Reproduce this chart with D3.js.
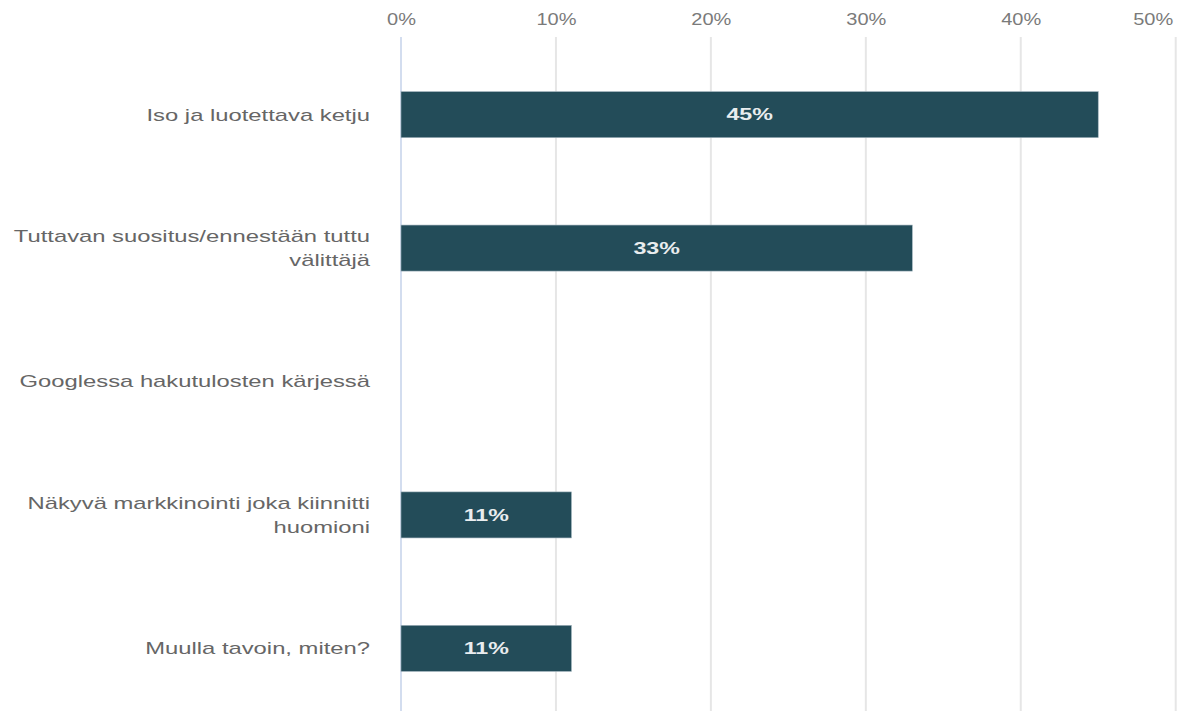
<!DOCTYPE html>
<html>
<head>
<meta charset="utf-8">
<script src="https://cdn.jsdelivr.net/npm/d3@7"></script>
<style>
  html, body { margin: 0; padding: 0; background: #fff; }
  svg { display: block; font-family: "Liberation Sans", Arial, sans-serif; }
</style>
</head>
<body>
<svg id="chart" width="1190" height="711"></svg>
<script>
// Survey answers: how the respondent found their agent
const categories = [
  "Iso ja luotettava ketju",
  "Tuttavan suositus/ennestään tuttu välittäjä",
  "Googlessa hakutulosten kärjessä",
  "Näkyvä markkinointi joka kiinnitti huomioni",
  "Muulla tavoin, miten?"
];
// Category labels broken onto lines as displayed
const labelLines = [
  ["Iso ja luotettava ketju"],
  ["Tuttavan suositus/ennestään tuttu", "välittäjä"],
  ["Googlessa hakutulosten kärjessä"],
  ["Näkyvä markkinointi joka kiinnitti", "huomioni"],
  ["Muulla tavoin, miten?"]
];
const values = [45, 33, 0, 11, 11];
const tickValues = [0, 10, 20, 30, 40, 50];

const svg = d3.select("#chart");
const W = 1190, H = 711;
const left = 401, right = 14, gridTop = 37;
const tickScale = 1.25;

const x = d3.scaleLinear().domain([0, 50]).range([left, W - right - 0.3]);
const y = d3.scaleBand().domain(categories).range([48, 715]).paddingInner(0.655).paddingOuter(0.327);

// Gridlines
svg.append("g").selectAll("line")
  .data(tickValues)
  .join("line")
  .attr("x1", d => x(d)).attr("x2", d => x(d))
  .attr("y1", gridTop).attr("y2", H)
  .attr("stroke", d => d === 0 ? "#d3ddef" : "#e6e6e6")
  .attr("stroke-width", 2);

// Top axis labels (wide lettering); the last one is kept inside the frame
const xAxis = d3.axisTop(x).tickValues(tickValues).tickFormat(d => d + "%").tickSize(0);
const ax = svg.append("g").attr("transform", "translate(0,25)").call(xAxis);
ax.select(".domain").remove();
const lastTick = tickValues[tickValues.length - 1];
ax.selectAll(".tick text")
  .attr("fill", "#7a7a7a")
  .style("font-size", "16px")
  .attr("y", 0)
  .attr("dy", 0)
  .attr("transform", `scale(${tickScale},1)`)
  .attr("text-anchor", d => d === lastTick ? "end" : "middle")
  .attr("x", d => d === lastTick ? -3 / tickScale : 0);

// Bars
svg.append("g").selectAll("rect")
  .data(values)
  .join("rect")
  .attr("x", x(0))
  .attr("y", (d, i) => y(categories[i]))
  .attr("width", d => x(d) - x(0))
  .attr("height", y.bandwidth())
  .attr("fill", "#234c59")
  .attr("stroke", d => d > 0 ? "#9fb2bb" : "none")
  .attr("stroke-width", 0.6);

// Value labels
svg.append("g").selectAll("text")
  .data(values.map((v, i) => ({ v, i })).filter(d => d.v > 0))
  .join("text")
  .attr("transform", d => `translate(${(x(0) + x(d.v)) / 2},${y(categories[d.i]) + y.bandwidth() / 2}) scale(1.45,1)`)
  .attr("dy", "0.36em")
  .attr("text-anchor", "middle")
  .attr("fill", "#e9edef")
  .style("font-size", "16px")
  .style("font-weight", "bold")
  .text(d => d.v + "%");

// Category labels
const lineGap = 24;
const lab = svg.append("g").selectAll("text")
  .data(labelLines)
  .join("text")
  .attr("text-anchor", "end")
  .attr("fill", "#666")
  .style("font-size", "17px")
  .attr("transform", (d, i) => {
    const cy = y(categories[i]) + y.bandwidth() / 2;
    const off = (d.length - 1) * lineGap / 2;
    return `translate(370,${cy - off}) scale(1.4,1)`;
  });
lab.selectAll("tspan")
  .data(d => d)
  .join("tspan")
  .attr("x", 0)
  .attr("dy", (d, i) => i === 0 ? "0.35em" : lineGap + "px")
  .text(d => d);
</script>
</body>
</html>
